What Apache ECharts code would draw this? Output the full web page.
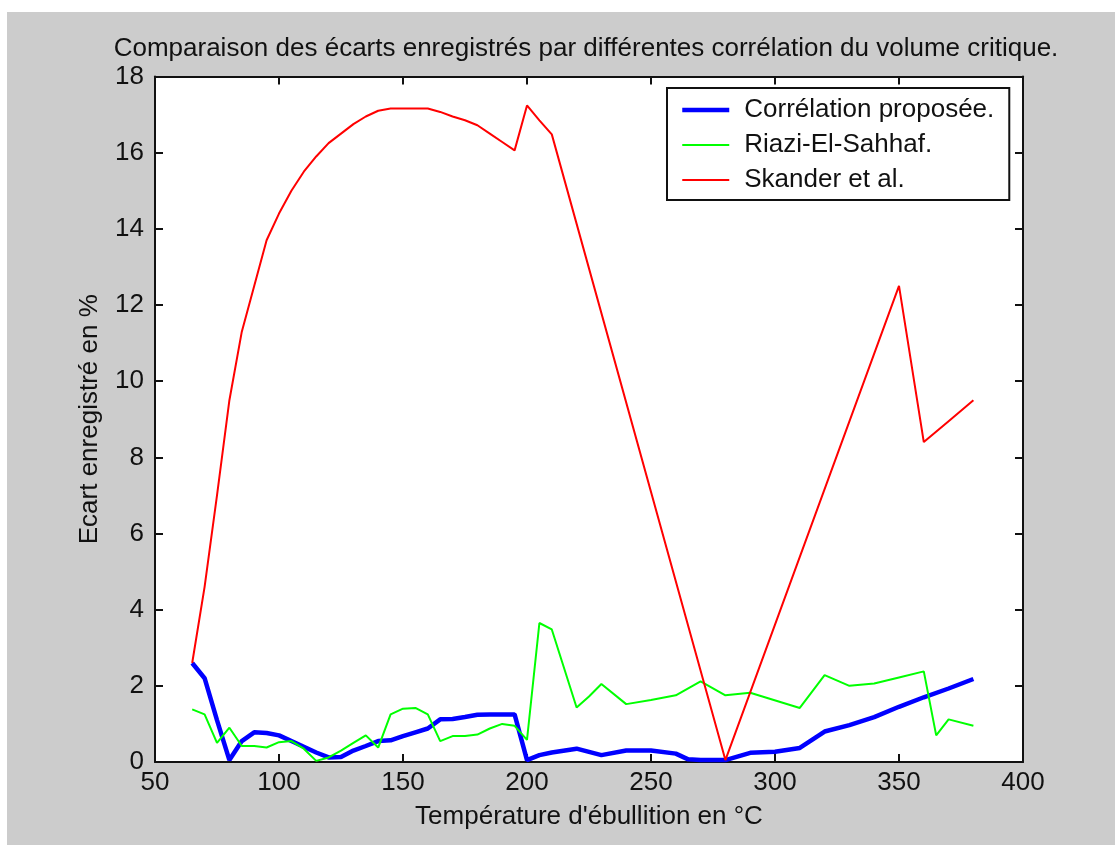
<!DOCTYPE html>
<html>
<head>
<meta charset="utf-8">
<script src="https://cdn.jsdelivr.net/npm/echarts@6/dist/echarts.min.js"></script>
<style>
  html, body { margin: 0; padding: 0; background: #ffffff; }
  #fig { position: absolute; left: 7px; top: 12px; width: 1108px; height: 833px; background: #cccccc; }
</style>
</head>
<body>
<div id="fig"></div>
<script>
// Corrélation proposée
const tempProposee = [65, 70, 75, 80, 85, 90, 95, 100, 105, 110, 115, 120, 125, 130, 135, 140, 145, 150, 155, 160, 165, 170, 175, 180, 185, 190, 195, 200, 205, 210, 220, 230, 240, 250, 260, 265, 270, 280, 290, 300, 310, 320, 330, 340, 350, 360, 370, 380];
const ecartProposee = [2.6, 2.2, 1.1, 0.05, 0.55, 0.78, 0.76, 0.7, 0.55, 0.4, 0.25, 0.12, 0.13, 0.3, 0.42, 0.55, 0.57, 0.68, 0.78, 0.88, 1.12, 1.13, 1.18, 1.24, 1.25, 1.25, 1.25, 0.05, 0.18, 0.25, 0.35, 0.18, 0.3, 0.3, 0.22, 0.07, 0.05, 0.05, 0.24, 0.27, 0.37, 0.8, 0.97, 1.18, 1.45, 1.7, 1.93, 2.18];

// Riazi-El-Sahhaf
const tempRiazi = [65, 70, 75, 80, 85, 90, 95, 100, 105, 110, 115, 120, 125, 130, 135, 140, 145, 150, 155, 160, 165, 170, 175, 180, 185, 190, 195, 200, 205, 210, 220, 225, 230, 240, 250, 260, 270, 280, 290, 310, 320, 330, 340, 350, 360, 365, 370, 380];
const ecartRiazi = [1.38, 1.25, 0.5, 0.9, 0.42, 0.42, 0.38, 0.52, 0.55, 0.35, 0.03, 0.12, 0.3, 0.5, 0.7, 0.38, 1.25, 1.4, 1.42, 1.25, 0.55, 0.68, 0.68, 0.72, 0.88, 1.0, 0.95, 0.58, 3.65, 3.48, 1.43, 1.72, 2.05, 1.52, 1.63, 1.75, 2.12, 1.75, 1.82, 1.42, 2.28, 2.0, 2.06, 2.22, 2.38, 0.7, 1.12, 0.95];

// Skander et al.
const tempSkander = [65, 70, 75, 80, 85, 90, 95, 100, 105, 110, 115, 120, 125, 130, 135, 140, 145, 150, 155, 160, 165, 170, 175, 180, 185, 190, 195, 200, 205, 210, 280, 350, 360, 370, 380];
const ecartSkander = [2.6, 4.6, 7.0, 9.5, 11.3, 12.5, 13.7, 14.4, 15.0, 15.5, 15.9, 16.25, 16.5, 16.75, 16.95, 17.1, 17.16, 17.16, 17.16, 17.16, 17.07, 16.95, 16.85, 16.72, 16.5, 16.28, 16.06, 17.24, 16.85, 16.48, 0.05, 12.5, 8.4, 8.95, 9.5];

const seriesNames = ['Corrélation proposée.', 'Riazi-El-Sahhaf.', 'Skander et al.'];
const seriesColors = ['#0000ff', '#00ff00', '#ff0000'];
const seriesWidths = [4.5, 2, 2];

const xMin = 50, xMax = 400, xStep = 50;
const yMin = 0, yMax = 18, yStep = 2;

const FONT = "'Liberation Sans', Arial, sans-serif";
const FS = 26;
const INK = '#111111';

function pairs(xs, ys) { return xs.map((x, i) => [x, ys[i]]); }

const boxLine = { show: true, onZero: false, lineStyle: { color: INK, width: 2 } };
const tickIn = { show: true, inside: true, length: 8, lineStyle: { color: INK, width: 2 } };

const chart = echarts.init(document.getElementById('fig'), null, { renderer: 'canvas' });
chart.setOption({
  animation: false,
  backgroundColor: '#cccccc',
  textStyle: { fontFamily: FONT },
  title: {
    text: 'Comparaison des écarts enregistrés par différentes corrélation du volume critique.',
    left: 574, top: 19, textAlign: 'center',
    textStyle: { fontFamily: FONT, fontSize: FS, fontWeight: 'normal', color: INK }
  },
  grid: { left: 148, top: 64.5, right: 92, bottom: 83, show: true, backgroundColor: '#ffffff', borderWidth: 0 },
  legend: {
    orient: 'vertical', left: 660, top: 76,
    padding: [9, 15, 7, 13], itemGap: 9,
    itemWidth: 47, itemHeight: 14,
    backgroundColor: '#ffffff', borderColor: INK, borderWidth: 2,
    itemStyle: { opacity: 0 },
    textStyle: { fontFamily: FONT, fontSize: FS, color: INK, lineHeight: 24, padding: [0, 0, 0, 10] },
    data: seriesNames.map((n, i) => ({
      name: n,
      lineStyle: { color: seriesColors[i], width: seriesWidths[i] }
    }))
  },
  xAxis: [{
    type: 'value', min: xMin, max: xMax, interval: xStep, position: 'bottom',
    name: "Température d'ébullition en °C", nameLocation: 'middle', nameGap: 42,
    nameTextStyle: { fontFamily: FONT, fontSize: FS, color: INK },
    axisLine: boxLine, axisTick: tickIn, splitLine: { show: false },
    axisLabel: { fontFamily: FONT, fontSize: FS, color: INK, margin: 8 }
  }, {
    type: 'value', min: xMin, max: xMax, interval: xStep, position: 'top',
    axisLine: boxLine, axisTick: tickIn, splitLine: { show: false },
    axisLabel: { show: false }
  }],
  yAxis: [{
    type: 'value', min: yMin, max: yMax, interval: yStep, position: 'left',
    name: 'Ecart enregistré en %', nameLocation: 'middle', nameGap: 52, nameRotate: 90,
    nameTextStyle: { fontFamily: FONT, fontSize: FS, color: INK },
    axisLine: boxLine, axisTick: tickIn, splitLine: { show: false },
    axisLabel: { fontFamily: FONT, fontSize: FS, color: INK, margin: 11 }
  }, {
    type: 'value', min: yMin, max: yMax, interval: yStep, position: 'right',
    axisLine: boxLine, axisTick: tickIn, splitLine: { show: false },
    axisLabel: { show: false }
  }],
  series: [
    { name: seriesNames[0], type: 'line', symbol: 'none', data: pairs(tempProposee, ecartProposee),
      lineStyle: { color: seriesColors[0], width: seriesWidths[0] }, itemStyle: { color: seriesColors[0] } },
    { name: seriesNames[1], type: 'line', symbol: 'none', data: pairs(tempRiazi, ecartRiazi),
      lineStyle: { color: seriesColors[1], width: seriesWidths[1] }, itemStyle: { color: seriesColors[1] } },
    { name: seriesNames[2], type: 'line', symbol: 'none', data: pairs(tempSkander, ecartSkander),
      lineStyle: { color: seriesColors[2], width: seriesWidths[2] }, itemStyle: { color: seriesColors[2] } }
  ]
});
</script>
</body>
</html>
